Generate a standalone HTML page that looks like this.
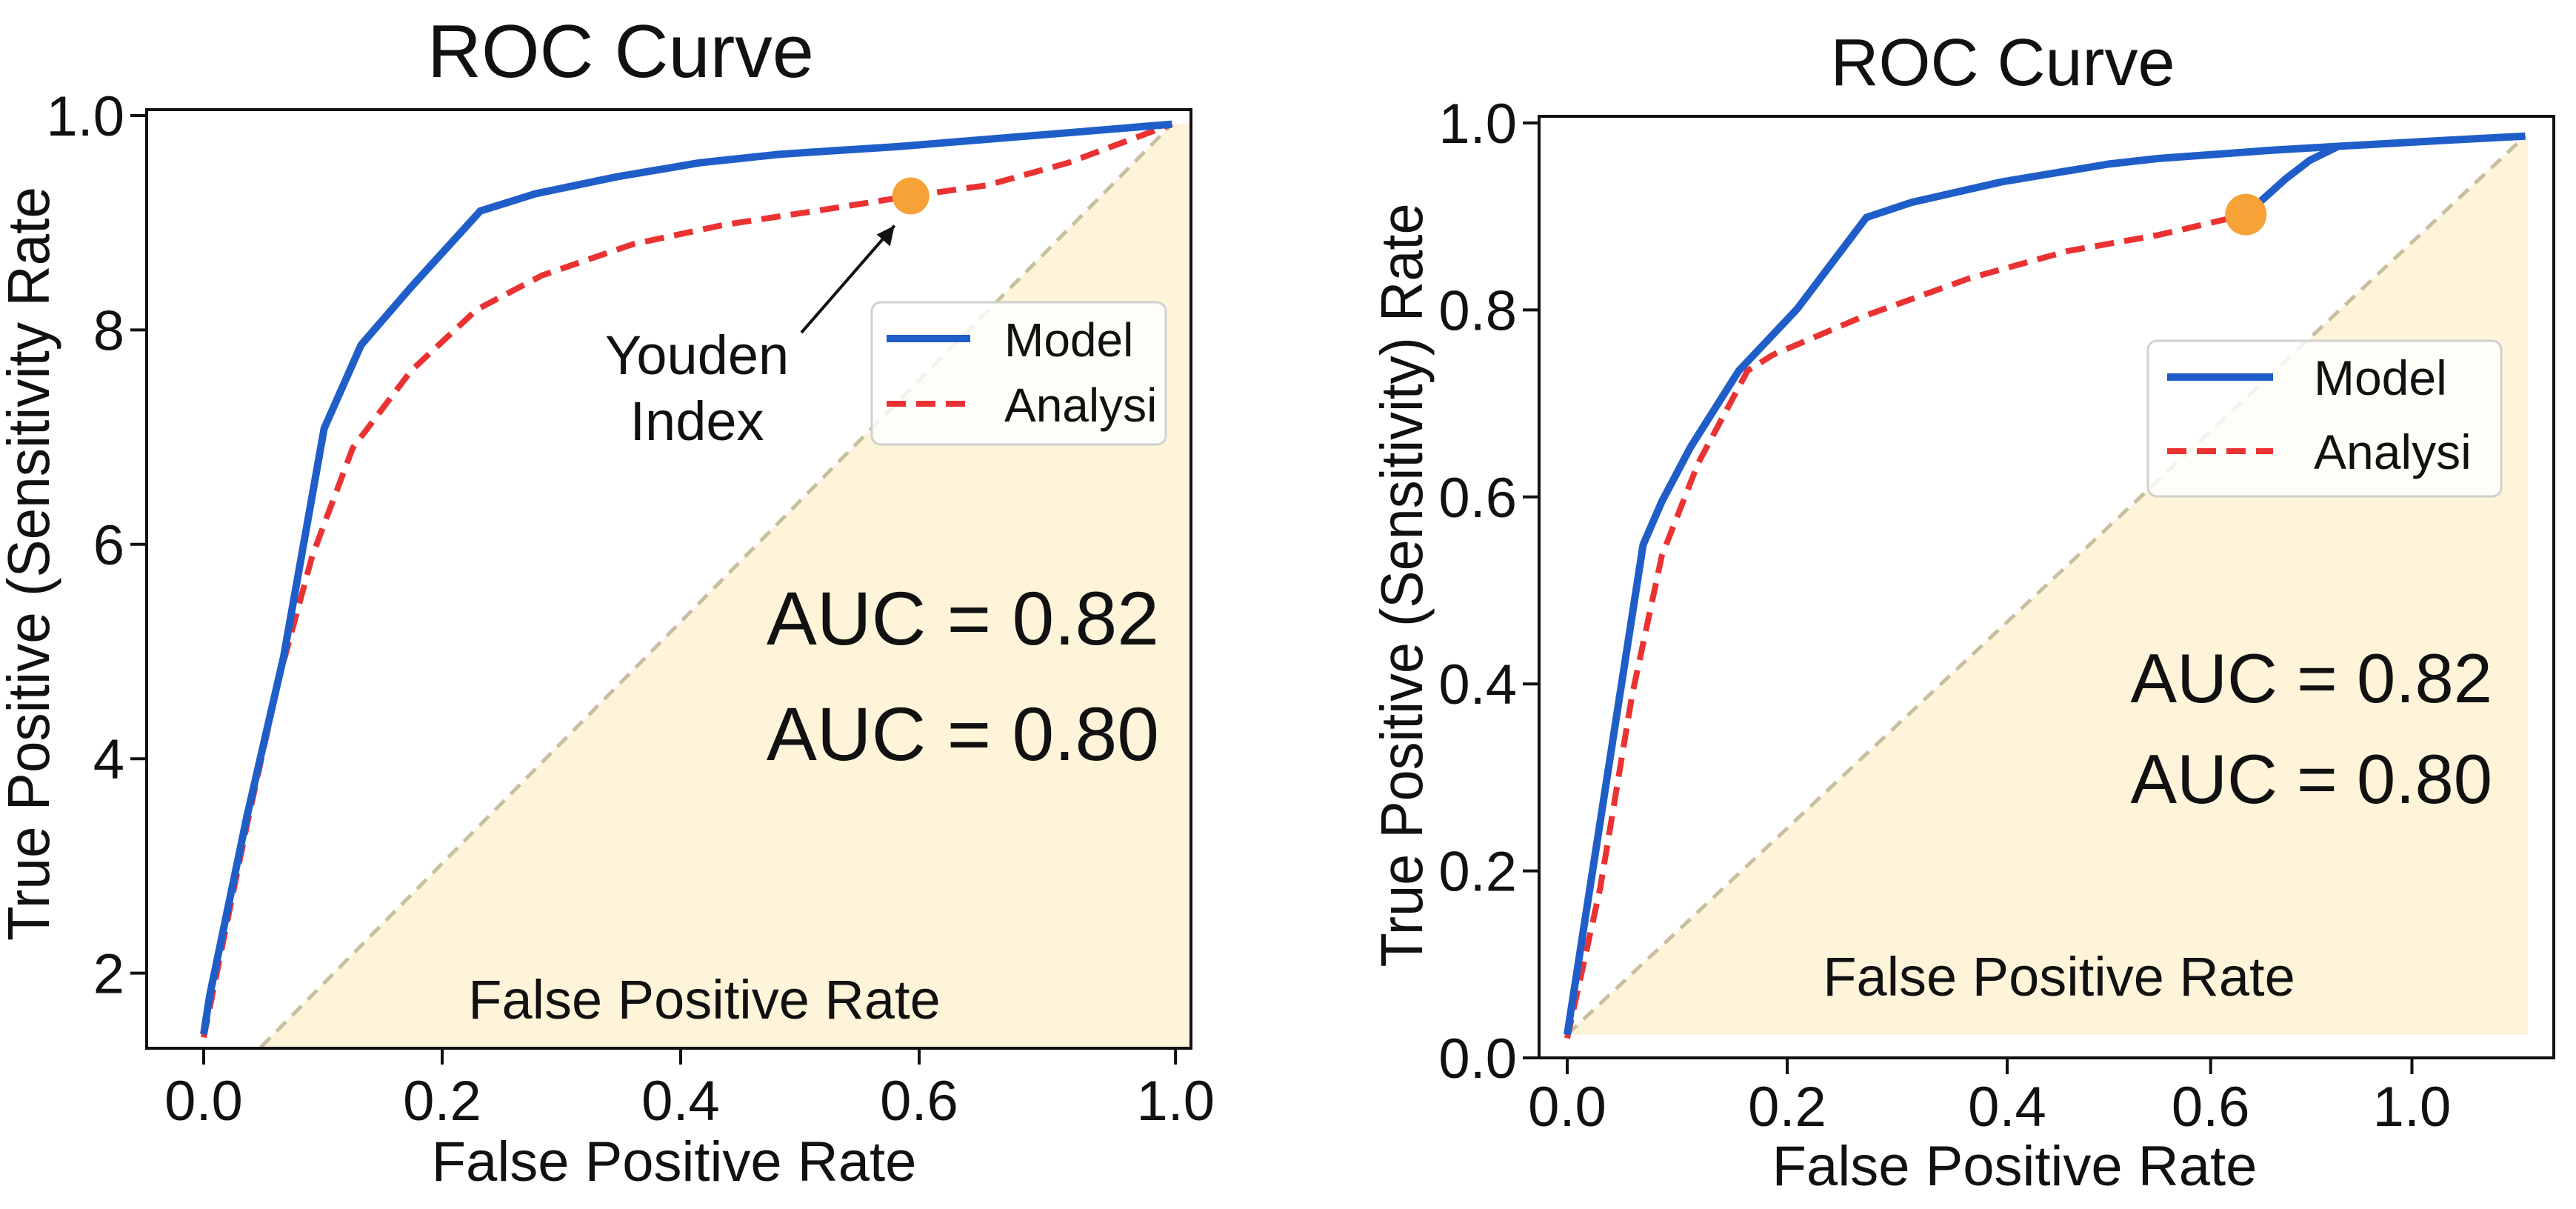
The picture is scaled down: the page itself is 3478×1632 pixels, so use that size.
<!DOCTYPE html>
<html><head><meta charset="utf-8"><style>
html,body{margin:0;padding:0;background:#fff;}
svg{display:block;font-family:"Liberation Sans","DejaVu Sans",sans-serif;}
</style></head><body>
<svg id="chart" width="3478" height="1632" viewBox="0 0 3478 1632" xmlns="http://www.w3.org/2000/svg">
<g id="left"></g>
<g id="right"></g>
</svg>
<script>
// ---- Left panel data ----
const leftModelX = [0, 0.005, 0.036, 0.067, 0.101, 0.132, 0.174, 0.232, 0.278, 0.347, 0.416, 0.484, 0.581, 0.725, 0.812];
const leftModelY = [0.143, 0.179, 0.345, 0.495, 0.708, 0.786, 0.840, 0.911, 0.927, 0.943, 0.956, 0.964, 0.971, 0.984, 0.992];
const leftAnalysisX = [0, 0.036, 0.063, 0.091, 0.125, 0.174, 0.229, 0.284, 0.360, 0.436, 0.519, 0.593, 0.657, 0.725, 0.812];
const leftAnalysisY = [0.140, 0.337, 0.474, 0.589, 0.690, 0.762, 0.819, 0.851, 0.880, 0.898, 0.912, 0.925, 0.935, 0.956, 0.992];
const leftYouden = [0.593, 0.925];
const leftDiag = [[0.048, 0.131], [0.812, 0.992]];
const leftXTicks = [0, 0.2, 0.4, 0.6, 0.815];
const leftXTickLabels = ["0.0", "0.2", "0.4", "0.6", "1.0"];
const leftYTicks = [1.0, 0.8, 0.6, 0.4, 0.2];
const leftYTickLabels = ["1.0", "8", "6", "4", "2"];
const leftAUC = ["AUC = 0.82", "AUC = 0.80"];
// ---- Right panel data ----
const rightModelX = [0, 0.069, 0.086, 0.112, 0.156, 0.209, 0.272, 0.313, 0.395, 0.492, 0.537, 0.642, 0.701, 0.776, 0.871];
const rightModelY = [0.025, 0.549, 0.595, 0.653, 0.735, 0.801, 0.899, 0.915, 0.937, 0.956, 0.962, 0.971, 0.975, 0.980, 0.986];
const rightBranchX = [0.617, 0.653, 0.675, 0.701];
const rightBranchY = [0.902, 0.940, 0.960, 0.975];
const rightAnalysisX = [0, 0.030, 0.059, 0.086, 0.119, 0.164, 0.187, 0.269, 0.366, 0.455, 0.537, 0.617];
const rightAnalysisY = [0.021, 0.182, 0.388, 0.537, 0.636, 0.735, 0.752, 0.793, 0.834, 0.863, 0.880, 0.902];
const rightYouden = [0.617, 0.902];
const rightDiag = [[0, 0.025], [0.871, 0.986]];
const rightXTicks = [0, 0.2, 0.4, 0.585, 0.768];
const rightXTickLabels = ["0.0", "0.2", "0.4", "0.6", "1.0"];
const rightYTicks = [0, 0.2, 0.4, 0.6, 0.8, 1.0];
const rightYTickLabels = ["0.0", "0.2", "0.4", "0.6", "0.8", "1.0"];
const rightAUC = ["AUC = 0.82", "AUC = 0.80"];

const NS = "http://www.w3.org/2000/svg";
function mk(parent, tag, attrs, text) {
  const e = document.createElementNS(NS, tag);
  for (const k in attrs) e.setAttribute(k, attrs[k]);
  if (text !== undefined) e.textContent = text;
  parent.appendChild(e);
  return e;
}
function pathD(xs, ys, sx, sy) {
  return xs.map((v, i) => (i ? "L" : "M") + sx(v).toFixed(1) + "," + sy(ys[i]).toFixed(1)).join(" ");
}
const BLUE = "#1f5ec9", RED = "#eb3232", ORANGE = "#f6a237", DIAG = "#c9bea0", FILL = "#fdf4d9";

function panel(g, cfg) {
  const sx = v => cfg.x0 + v * cfg.xk;
  const sy = v => cfg.y0 - v * cfg.yk;
  const F = cfg.frame;
  const fill = mk(g, "polygon", {points: `${sx(cfg.diag[0][0])},${sy(cfg.diag[0][1])} ${sx(cfg.diag[1][0])},${sy(cfg.diag[1][1])} ${cfg.fillR},${sy(cfg.diag[1][1])} ${cfg.fillR},${cfg.fillB} ${sx(cfg.diag[0][0])},${cfg.fillB}`, fill: FILL});
  
  
  const dg = mk(g, "line", {x1: sx(cfg.diag[0][0]), y1: sy(cfg.diag[0][1]), x2: sx(cfg.diag[1][0]), y2: sy(cfg.diag[1][1]), stroke: DIAG, "stroke-width": 5, "stroke-dasharray": "18 12"});
  
  
  const il = mk(g, "text", {x: cfg.innerLbl[0], y: cfg.innerLbl[1], "font-size": 74, "text-anchor": "middle", fill: "#111"}, "False Positive Rate");
  
  
  const a = mk(g, "path", {d: pathD(cfg.ax, cfg.ay, sx, sy), fill: "none", stroke: RED, "stroke-width": 8, "stroke-dasharray": "26 14", "stroke-linejoin": "round"});
  
  
  const m = mk(g, "path", {d: pathD(cfg.mx, cfg.my, sx, sy), fill: "none", stroke: BLUE, "stroke-width": 10, "stroke-linejoin": "round"});
  
  
  if (cfg.bx) {
    const b = mk(g, "path", {d: pathD(cfg.bx, cfg.by, sx, sy), fill: "none", stroke: BLUE, "stroke-width": 10, "stroke-linejoin": "round"});
    
    
  }
  const yd = mk(g, "circle", {cx: sx(cfg.youden[0]), cy: sy(cfg.youden[1]), r: cfg.mr, fill: ORANGE});
  
  
  const fr = mk(g, "rect", {x: F[0], y: F[1], width: F[2] - F[0], height: F[3] - F[1], fill: "none", stroke: "#111", "stroke-width": 4});
  
  
  cfg.xt.forEach((v, i) => {
    const t = mk(g, "line", {x1: sx(v), y1: F[3], x2: sx(v), y2: F[3] + 22, stroke: "#111", "stroke-width": 4});
    
    
    const l = mk(g, "text", {x: sx(v), y: cfg.xtBase, "font-size": 76, "text-anchor": "middle", fill: "#111"}, cfg.xtl[i]);
    
    
  });
  cfg.yt.forEach((v, i) => {
    const t = mk(g, "line", {x1: F[0] - 22, y1: sy(v), x2: F[0], y2: sy(v), stroke: "#111", "stroke-width": 4});
    
    
    const l = mk(g, "text", {x: F[0] - 30, y: sy(v) + 27, "font-size": 76, "text-anchor": "end", fill: "#111"}, cfg.ytl[i]);
    
    
  });
  const xt = mk(g, "text", {x: cfg.xTitle[0], y: cfg.xTitle[1], "font-size": 76, "text-anchor": "middle", fill: "#111"}, "False Positive Rate");
  
  
  const yt = mk(g, "text", {x: 0, y: 0, "font-size": 80, "text-anchor": "middle", fill: "#111", textLength: cfg.yTitle[2], lengthAdjust: "spacingAndGlyphs", transform: `translate(${cfg.yTitle[0]},${cfg.yTitle[1]}) rotate(-90)`}, cfg.yTitleText);
  
  
  const ti = mk(g, "text", {x: cfg.title[0], y: cfg.title[1], "font-size": cfg.title[2], "text-anchor": "middle", fill: "#111"}, "ROC Curve");
  
  
  cfg.auc.forEach((s, i) => {
    const t = mk(g, "text", {x: cfg.aucPos[0], y: cfg.aucPos[1 + i], "font-size": cfg.aucSize, "text-anchor": "end", fill: "#111"}, s);
    
    
  });
  const L = cfg.leg;
  const lg = mk(g, "g", {});
  
  
  mk(lg, "rect", {x: L.x, y: L.y, width: L.w, height: L.h, rx: 12, fill: "#ffffff", "fill-opacity": 0.8, stroke: "#d0d0d0", "stroke-width": 3});
  const e1 = mk(lg, "line", {x1: L.lx1, y1: L.y1, x2: L.lx2, y2: L.y1, stroke: BLUE, "stroke-width": 10});
  
  
  const t1 = mk(lg, "text", {x: L.tx, y: L.y1 + 24, "font-size": L.fs, fill: "#111"}, "Model");
  
  
  const e2 = mk(lg, "line", {x1: L.lx1, y1: L.y2, x2: L.lx2, y2: L.y2, stroke: RED, "stroke-width": 8, "stroke-dasharray": "26 14"});
  
  
  const t2 = mk(lg, "text", {x: L.tx, y: L.y2 + 24, "font-size": L.fs, fill: "#111"}, "Analysi");
  
  
  return {sx, sy};
}

const left = document.getElementById("left");
const ls = panel(left, {
  x0: 275, xk: 1610, y0: 1603, yk: 1447,
  frame: [198, 148, 1608, 1415], fillR: 1606, fillB: 1413,
  diag: leftDiag, mx: leftModelX, my: leftModelY, ax: leftAnalysisX, ay: leftAnalysisY,
  youden: leftYouden, mr: 25,
  xt: leftXTicks, xtl: leftXTickLabels, xtBase: 1512, yt: leftYTicks, ytl: leftYTickLabels,
  xTitle: [910, 1594], yTitle: [66, 761, 1018], yTitleText: "True Positive (Sensitivity Rate",
  title: [838, 104, 101], innerLbl: [951, 1375],
  auc: leftAUC, aucPos: [1565, 870, 1026], aucSize: 102,
  leg: {x: 1177, y: 408, w: 397, h: 192, lx1: 1197, lx2: 1310, y1: 457, y2: 545, tx: 1356, fs: 64}
});
const ann = document.createElementNS(NS, "g");


left.appendChild(ann);
mk(ann, "text", {x: 941, y: 505, "font-size": 74, "text-anchor": "middle", fill: "#111"}, "Youden");
mk(ann, "text", {x: 941, y: 594, "font-size": 74, "text-anchor": "middle", fill: "#111"}, "Index");
mk(ann, "line", {x1: 1082, y1: 449, x2: ls.sx(leftYouden[0]) - 22, y2: ls.sy(leftYouden[1]) + 40, stroke: "#111", "stroke-width": 4});
const ax2 = ls.sx(leftYouden[0]) - 22, ay2 = ls.sy(leftYouden[1]) + 40;
mk(ann, "polygon", {points: `${ax2},${ay2} ${ax2 - 24},${ay2 + 12} ${ax2 - 6},${ay2 + 28}`, fill: "#111"});

const right = document.getElementById("right");
panel(right, {
  x0: 2116, xk: 1485, y0: 1428, yk: 1262,
  frame: [2078, 157, 3448, 1428], fillR: 3413, fillB: 1397,
  diag: rightDiag, mx: rightModelX, my: rightModelY, bx: rightBranchX, by: rightBranchY,
  ax: rightAnalysisX, ay: rightAnalysisY, youden: rightYouden, mr: 28,
  xt: rightXTicks, xtl: rightXTickLabels, xtBase: 1520, yt: rightYTicks, ytl: rightYTickLabels,
  xTitle: [2720, 1600], yTitle: [1920, 790, 1031], yTitleText: "True Positive (Sensitivity) Rate",
  title: [2704, 115, 90], innerLbl: [2780, 1344],
  auc: rightAUC, aucPos: [3365, 948, 1084], aucSize: 94,
  leg: {x: 2900, y: 460, w: 477, h: 210, lx1: 2926, lx2: 3069, y1: 509, y2: 609, tx: 3124, fs: 66}
});
</script>
</body></html>
